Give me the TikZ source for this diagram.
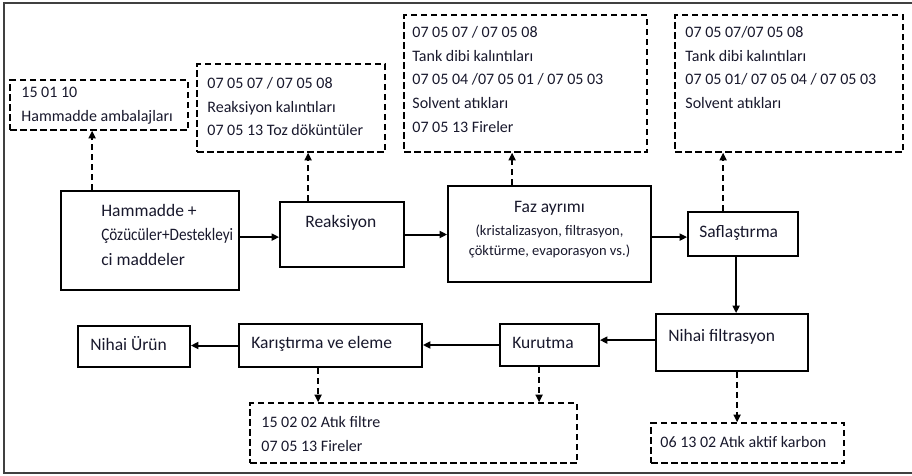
\documentclass[tikz,border=0pt]{standalone}
\usepackage{fontspec}
\setmainfont{Carlito}
\usetikzlibrary{arrows.meta,fit}
\definecolor{ink}{RGB}{24,24,44}
\begin{document}
\begin{tikzpicture}[x=1pt,y=-1pt,
  proc/.style={draw=black,line width=1.8pt,inner sep=0pt},
  waste/.style={draw=black,line width=1.6pt,dash pattern=on 6.5pt off 3.5pt,inner sep=0pt},
  lbl/.style={inner sep=0pt,text=ink,font=\fontsize{17.5}{24.5}\selectfont},
  wlbl/.style={inner sep=0pt,text=ink,align=left,font=\fontsize{16}{23.7}\selectfont},
  flow/.style={line width=2pt,-{Triangle[length=7.5pt,width=7pt]}},
  drop/.style={line width=1.7pt,dash pattern=on 6pt off 4pt,-{Triangle[length=7.5pt,width=7pt]}},
]
\useasboundingbox (0,0) rectangle (912,475);
% outer frame
\draw[line width=2pt,black!75] (4,3) rectangle (922,473);

% process steps
\node[proc,fit={(61,191) (239,290)}] (ham) {};
\node[proc,fit={(280,202) (404,267)}] (reak) {};
\node[proc,fit={(448,186) (651,282)}] (faz) {};
\node[proc,fit={(688,212) (798,256)}] (safl) {};
\node[proc,fit={(656,314) (808,371)}] (nfilt) {};
\node[proc,fit={(500,324) (599,366)}] (kur) {};
\node[proc,fit={(239,324) (422,367)}] (kar) {};
\node[proc,fit={(78,326) (190,367)}] (urun) {};

% waste boxes
\node[waste,fit={(10,80) (188,130)}] (w1) {};
\node[waste,fit={(197,64) (385,152)}] (w2) {};
\node[waste,fit={(404,15) (647,152)}] (w3) {};
\node[waste,fit={(675,15) (903,152)}] (w4) {};
\node[waste,fit={(250,403) (577,463)}] (w5) {};
\node[waste,fit={(651,423) (844,463)}] (w6) {};

% process labels
\node[lbl,align=left,anchor=north west] (hamt) at ([shift={(41,8.85)}]ham.north west)
  {\strut Hammadde +\\\scalebox{0.87}[1]{Çözücüler+Destekleyi}\\ci maddeler};
\node[lbl,anchor=base west] (reakt) at ([shift={(26,26)}]reak.north west) {Reaksiyon};
\node[lbl,anchor=base] (fazt) at ([shift={(0,27)}]faz.north) {Faz ayrımı};
\node[inner sep=0pt,text=ink,align=center,font=\fontsize{14.5}{20}\selectfont,anchor=north]
  (fazs) at ([shift={(0,36.5)}]faz.north)
  {\strut(kristalizasyon, filtrasyon,\\çöktürme, evaporasyon vs.)};
\node[lbl,anchor=base west] (saflt) at ([shift={(12,26)}]safl.north west) {Saflaştırma};
\node[lbl,anchor=base west] (nfiltt) at ([shift={(13,28)}]nfilt.north west) {Nihai filtrasyon};
\node[lbl,anchor=base west] (kurt) at ([shift={(13,25)}]kur.north west) {Kurutma};
\node[lbl,anchor=base west] (kart) at ([shift={(13,25)}]kar.north west) {Karıştırma ve eleme};
\node[lbl,anchor=base west] (urunt) at ([shift={(13,25)}]urun.north west) {Nihai Ürün};

% waste labels
\node[wlbl,anchor=north west] (w1t) at ([shift={(12,1.4)}]w1.north west)
  {\strut 15 01 10\\Hammadde ambalajları};
\node[wlbl,anchor=north west] (w2t) at ([shift={(11,8.4)}]w2.north west)
  {\strut 07 05 07 / 07 05 08\\Reaksiyon kalıntıları\\07 05 13 Toz döküntüler};
\node[wlbl,anchor=north west] (w3t) at ([shift={(9,6.4)}]w3.north west)
  {\strut 07 05 07 / 07 05 08\\Tank dibi kalıntıları\\07 05 04 /07 05 01 / 07 05 03\\Solvent atıkları\\07 05 13 Fireler};
\node[wlbl,anchor=north west] (w4t) at ([shift={(11,6.4)}]w4.north west)
  {\strut 07 05 07/07 05 08\\Tank dibi kalıntıları\\07 05 01/ 07 05 04 / 07 05 03\\Solvent atıkları};
\node[wlbl,anchor=north west] (w5t) at ([shift={(12,8.4)}]w5.north west)
  {\strut 15 02 02 Atık filtre\\07 05 13 Fireler};
\node[wlbl,anchor=north west] (w6t) at ([shift={(10,8.4)}]w6.north west)
  {\strut 06 13 02 Atık aktif karbon};

% connector anchor points
\coordinate (h1) at ([xshift=32pt]ham.north west);
\coordinate (r1) at ([xshift=29pt]reak.north west);
\coordinate (f1) at ([xshift=65pt]faz.north west);
\coordinate (s1) at ([xshift=36pt]safl.north west);
\coordinate (k1) at ([xshift=80pt]kar.south west);
\coordinate (u1) at ([xshift=40pt]kur.south west);
\coordinate (n1) at ([xshift=82pt]nfilt.south west);
\coordinate (ha) at ([yshift=-47pt]ham.north east);
\coordinate (fa) at ([yshift=-52pt]faz.north east);
\coordinate (sa) at ([xshift=49pt]safl.south west);
\coordinate (na) at ([yshift=-27pt]nfilt.north west);

% main flow
\draw[flow] (ha) -- (ha -| reak.west);
\draw[flow] (reak.east) -- (reak.east -| faz.west);
\draw[flow] (fa) -- (fa -| safl.west);
\draw[flow] (sa) -- (sa |- nfilt.north);
\draw[flow] (na) -- (na -| kur.east);
\draw[flow] (kur.west) -- (kur.west -| kar.east);
\draw[flow] (kar.west) -- (kar.west -| urun.east);

% waste streams
\draw[drop] (h1) -- (h1 |- w1.south);
\draw[drop] (r1) -- (r1 |- w2.south);
\draw[drop] (f1) -- (f1 |- w3.south);
\draw[drop] (s1) -- (s1 |- w4.south);
\draw[drop] (k1) -- (k1 |- w5.north);
\draw[drop] (u1) -- (u1 |- w5.north);
\draw[drop] (n1) -- (n1 |- w6.north);
\end{tikzpicture}
\end{document}
